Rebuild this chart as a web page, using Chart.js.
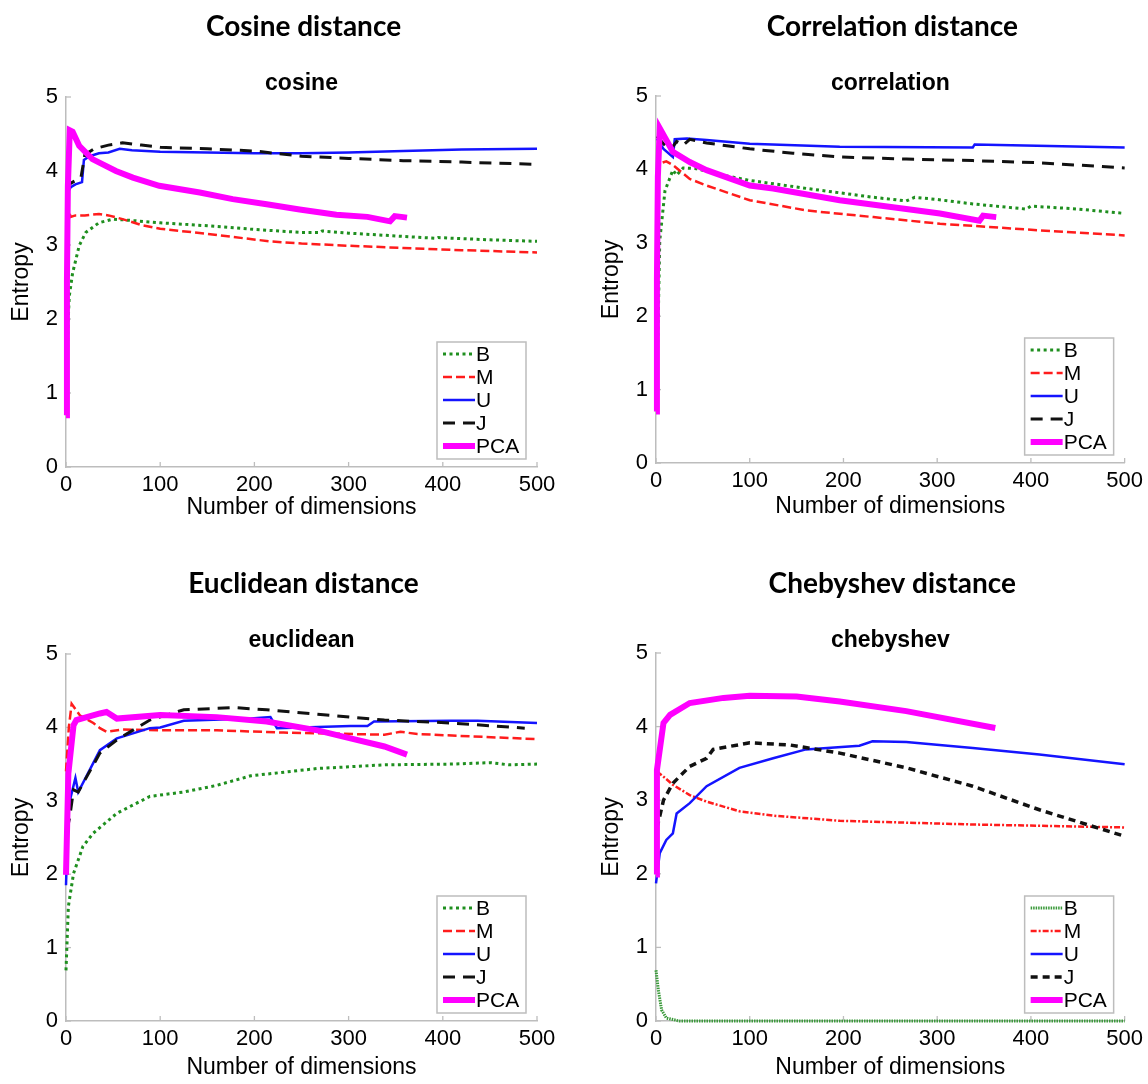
<!DOCTYPE html>
<html>
<head>
<meta charset="utf-8">
<script src="https://cdn.jsdelivr.net/npm/chart.js@4.4.1/dist/chart.umd.min.js"></script>
<style>
html, body { margin: 0; padding: 0; background: #fff; overflow: hidden; }
#fig { position: relative; width: 1148px; height: 1084px; }
canvas { position: absolute; }
</style>
</head>
<body>
<div id="fig">
  <canvas id="c0"></canvas>
  <canvas id="c1"></canvas>
  <canvas id="c2"></canvas>
  <canvas id="c3"></canvas>
</div>
<script>
// ---- data: [dimensions, entropy] ----
var seriesNames = ['B', 'M', 'U', 'J', 'PCA'];
var xTicks = [0, 100, 200, 300, 400, 500];
var yTicks = [0, 1, 2, 3, 4, 5];

// cosine
var cosineB = [[1,1.0],[2,1.9],[3.5,2.31],[7,2.62],[14,2.99],[21,3.17],[35,3.30],[50,3.35],[71,3.33],[100,3.30],[150,3.26],[200,3.21],[250,3.17],[270,3.17],[272,3.19],[300,3.16],[393,3.09],[395,3.10],[450,3.07],[500,3.05]];
var cosineM = [[0.5,3.15],[2,3.35],[3,3.46],[5,3.38],[10,3.40],[20,3.40],[35,3.42],[45,3.40],[60,3.35],[80,3.27],[100,3.22],[150,3.15],[216,3.05],[250,3.02],[300,2.99],[358,2.96],[420,2.93],[500,2.90]];
var cosineU = [[0,3.3],[1,3.55],[2,3.72],[5,3.78],[10,3.82],[17,3.85],[19,4.15],[25,4.2],[35,4.24],[45,4.25],[57,4.30],[70,4.28],[100,4.26],[150,4.25],[200,4.24],[250,4.24],[300,4.25],[358,4.27],[420,4.29],[500,4.30]];
var cosineJ = [[1,3.75],[3,3.82],[10,3.87],[16,3.92],[20,4.22],[30,4.30],[45,4.35],[60,4.38],[80,4.35],[100,4.32],[150,4.30],[200,4.27],[250,4.20],[300,4.17],[358,4.14],[420,4.12],[500,4.09]];
var cosinePCA = [[0,0.7],[1,2.5],[2,3.8],[4,4.55],[7,4.53],[14,4.34],[28,4.16],[53,4.0],[71,3.91],[99,3.80],[142,3.71],[177,3.62],[213,3.55],[248,3.48],[287,3.41],[320,3.38],[344,3.32],[349,3.39],[356,3.38],[362,3.37]];

// correlation
var corrB = [[1,1.2],[2.5,2.03],[4,3.03],[9.6,3.71],[18,3.99],[22,3.92],[29,4.02],[43,4.01],[72,3.92],[100,3.85],[161,3.74],[232,3.62],[267,3.57],[276,3.62],[300,3.59],[338,3.53],[395,3.46],[400,3.50],[450,3.46],[500,3.40]];
var corrM = [[1,3.95],[4,4.08],[11,4.11],[18,4.06],[36,3.87],[54,3.78],[100,3.58],[161,3.44],[232,3.35],[303,3.26],[409,3.17],[500,3.10]];
var corrU = [[1,4.42],[8,4.28],[18,4.17],[20,4.41],[33,4.42],[54,4.40],[100,4.35],[196,4.31],[338,4.30],[340,4.34],[420,4.32],[500,4.30]];
var corrJ = [[1,4.45],[8,4.35],[15,4.26],[22,4.38],[29,4.33],[36,4.41],[54,4.36],[100,4.28],[146,4.22],[196,4.17],[267,4.14],[338,4.12],[409,4.09],[500,4.02]];
var corrPCA = [[0,0.7],[1,2.5],[2,3.9],[4,4.56],[11,4.40],[18,4.24],[36,4.10],[54,3.99],[100,3.78],[125,3.74],[196,3.58],[267,3.46],[303,3.40],[345,3.30],[349,3.37],[363,3.35]];

// euclidean
var euclB = [[0,0.69],[2.5,1.56],[8,2.01],[18,2.38],[29,2.56],[54,2.83],[89,3.06],[125,3.12],[160,3.21],[196,3.34],[267,3.44],[338,3.49],[409,3.50],[450,3.52],[470,3.49],[500,3.50]];
var euclM = [[0,3.4],[3,4.0],[6,4.32],[10,4.25],[15,4.16],[29,4.06],[36,3.99],[43,3.94],[60,3.97],[100,3.96],[160,3.96],[231,3.93],[338,3.90],[355,3.94],[373,3.91],[444,3.87],[500,3.84]];
var euclU = [[0,1.85],[2.5,2.92],[10,3.31],[13,3.12],[36,3.69],[54,3.85],[89,3.99],[100,4.0],[125,4.09],[196,4.12],[217,4.14],[224,3.99],[302,4.02],[320,4.02],[327,4.08],[409,4.09],[437,4.09],[500,4.06]];
var euclJ = [[1,2.6],[4,2.78],[8,3.15],[13,3.12],[36,3.65],[54,3.83],[89,4.10],[125,4.24],[178,4.27],[213,4.24],[267,4.18],[338,4.10],[409,4.06],[487,3.99]];
var euclPCA = [[0,1.99],[2.5,3.37],[8,4.03],[11,4.10],[36,4.19],[43,4.21],[54,4.12],[100,4.17],[160,4.14],[213,4.08],[267,3.96],[302,3.85],[338,3.74],[362,3.63]];

// chebyshev
var chebB = [[0,0.69],[2.5,0.42],[6,0.15],[11,0.04],[25,0.0],[500,0.0]];
var chebM = [[1,3.39],[8,3.32],[18,3.21],[36,3.07],[54,2.98],[89,2.85],[125,2.79],[196,2.72],[338,2.67],[500,2.63]];
var chebU = [[0,1.87],[4,2.28],[11,2.46],[18,2.55],[22,2.82],[36,2.96],[54,3.19],[89,3.44],[125,3.57],[160,3.69],[217,3.74],[231,3.80],[267,3.79],[338,3.71],[409,3.62],[500,3.49]];
var chebJ = [[1,2.62],[8,3.0],[18,3.23],[36,3.46],[54,3.57],[61,3.69],[100,3.78],[143,3.75],[196,3.64],[267,3.44],[338,3.19],[409,2.87],[500,2.51]];
var chebPCA = [[0,1.99],[1,3.41],[8,4.05],[15,4.16],[36,4.32],[72,4.39],[100,4.42],[150,4.41],[196,4.34],[267,4.21],[362,3.98]];

// ---- styles ----
var axisGray = '#bdbdbd';
var styleA = {
    B:   {color: '#1f8f1f', width: 3,   dash: [3, 3.5]},
    M:   {color: '#ff1c1c', width: 2.5, dash: [9, 4]},
    U:   {color: '#1414ff', width: 2.5, dash: []},
    J:   {color: '#111111', width: 3,   dash: [12, 8]},
    PCA: {color: '#ff00ff', width: 6,   dash: []}
};
var styleB = {
    B:   {color: '#3a9a3a', width: 3,   dash: [1.5, 1]},
    M:   {color: '#ff1c1c', width: 2.5, dash: [6, 2, 2, 2]},
    U:   {color: '#1414ff', width: 2.5, dash: []},
    J:   {color: '#111111', width: 3.5, dash: [7, 5]},
    PCA: {color: '#ff00ff', width: 6,   dash: []}
};

var panels = [
    {id: 'c0', title: 'Cosine distance', sub: 'cosine', series: [cosineB, cosineM, cosineU, cosineJ, cosinePCA],
     left: 0, top: 0, w: 574, h: 530, plotTop: 97, plotBottom: 467, plotRight: 537, xTitlePad: 9, style: styleA},
    {id: 'c1', title: 'Correlation distance', sub: 'correlation', series: [corrB, corrM, corrU, corrJ, corrPCA],
     left: 590, top: 0, w: 558, h: 530, plotTop: 96, plotBottom: 463, plotRight: 536, xTitlePad: 10, style: styleA},
    {id: 'c2', title: 'Euclidean distance', sub: 'euclidean', series: [euclB, euclM, euclU, euclJ, euclPCA],
     left: 0, top: 557, w: 574, h: 527, plotTop: 97, plotBottom: 464, plotRight: 537, xTitlePad: 3, style: styleA},
    {id: 'c3', title: 'Chebyshev distance', sub: 'chebyshev', series: [chebB, chebM, chebU, chebJ, chebPCA],
     left: 590, top: 557, w: 558, h: 527, plotTop: 96, plotBottom: 464, plotRight: 536, xTitlePad: 3, style: styleB}
];

// inward tick marks
var innerTicks = {
    id: 'innerTicks',
    beforeDatasetsDraw(chart) {
        var ctx = chart.ctx, a = chart.chartArea, sx = chart.scales.x, sy = chart.scales.y;
        ctx.save();
        ctx.strokeStyle = axisGray;
        ctx.lineWidth = 1.3;
        xTicks.forEach(function (v) {
            var px = sx.getPixelForValue(v);
            ctx.beginPath(); ctx.moveTo(px, a.bottom); ctx.lineTo(px, a.bottom - 5); ctx.stroke();
        });
        yTicks.forEach(function (v) {
            var py = sy.getPixelForValue(v);
            ctx.beginPath(); ctx.moveTo(a.left, py); ctx.lineTo(a.left + 5, py); ctx.stroke();
        });
        ctx.restore();
    }
};

// titles and boxed legend
var decor = {
    id: 'decor',
    afterDraw(chart, args, opts) {
        var ctx = chart.ctx, a = chart.chartArea;
        var cx = (a.left + a.right) / 2;
        ctx.save();
        ctx.fillStyle = '#000';
        ctx.textAlign = 'center';
        ctx.textBaseline = 'alphabetic';
        ctx.font = 'bold 28px Lato';
        ctx.fillText(opts.title, cx + 2, 36);
        ctx.font = 'bold 23px "Liberation Sans"';
        ctx.fillText(opts.sub, cx, 90);

        // legend box
        var bw = 89, bh = 117;
        var bx = a.right - 11 - bw, by = a.bottom - 8 - bh;
        ctx.fillStyle = '#fff';
        ctx.fillRect(bx, by, bw, bh);
        ctx.strokeStyle = axisGray;
        ctx.lineWidth = 1.5;
        ctx.strokeRect(bx, by, bw, bh);
        ctx.font = '21px "Liberation Sans"';
        ctx.textAlign = 'left';
        ctx.textBaseline = 'middle';
        chart.data.datasets.forEach(function (ds, i) {
            var ly = by + 12 + i * 23;
            ctx.save();
            ctx.strokeStyle = ds.borderColor;
            ctx.lineWidth = ds.borderWidth;
            ctx.setLineDash(ds.borderDash);
            ctx.beginPath(); ctx.moveTo(bx + 6, ly); ctx.lineTo(bx + 38, ly); ctx.stroke();
            ctx.restore();
            ctx.fillStyle = '#000';
            ctx.fillText(ds.label, bx + 39, ly + 1);
        });
        ctx.restore();
    }
};

panels.forEach(function (p) {
    var canvas = document.getElementById(p.id);
    canvas.width = p.w;
    canvas.height = p.h;
    canvas.style.left = p.left + 'px';
    canvas.style.top = p.top + 'px';

    var datasets = p.series.map(function (pts, i) {
        var name = seriesNames[i];
        var st = p.style[name];
        return {
            label: name,
            data: pts.map(function (d) { return {x: d[0], y: d[1]}; }),
            borderColor: st.color,
            borderWidth: st.width,
            borderDash: st.dash,
            pointRadius: 0,
            tension: 0,
            fill: false,
            clip: false,
            order: seriesNames.length - i
        };
    });

    new Chart(canvas, {
        type: 'line',
        data: {datasets: datasets},
        options: {
            responsive: false,
            animation: false,
            layout: {autoPadding: false, padding: {top: p.plotTop, right: p.w - p.plotRight, left: 0, bottom: 0}},
            plugins: {
                legend: {display: false},
                tooltip: {enabled: false},
                decor: {title: p.title, sub: p.sub}
            },
            scales: {
                x: {
                    type: 'linear', min: 0, max: 500,
                    afterFit: function (s) { s.height = p.h - p.plotBottom; },
                    afterBuildTicks: function (s) { s.ticks = xTicks.map(function (v) { return {value: v}; }); },
                    grid: {display: true, drawOnChartArea: false, drawTicks: false},
                    border: {display: true, color: axisGray, width: 1.5},
                    ticks: {color: '#000', padding: 5, font: {family: 'Liberation Sans', size: 22}, maxRotation: 0},
                    title: {display: true, text: 'Number of dimensions', color: '#000',
                            font: {family: 'Liberation Sans', size: 23}, padding: {top: 0, bottom: p.xTitlePad}}
                },
                y: {
                    type: 'linear', min: 0, max: 5,
                    afterFit: function (s) { s.width = 66; },
                    afterBuildTicks: function (s) { s.ticks = yTicks.map(function (v) { return {value: v}; }); },
                    grid: {display: true, drawOnChartArea: false, drawTicks: false},
                    border: {display: true, color: axisGray, width: 1.5},
                    ticks: {color: '#000', padding: 8, font: {family: 'Liberation Sans', size: 22}},
                    title: {display: true, text: 'Entropy', color: '#000',
                            font: {family: 'Liberation Sans', size: 23}, padding: {top: 8, bottom: 0}}
                }
            }
        },
        plugins: [innerTicks, decor]
    });
});
</script>
</body>
</html>
